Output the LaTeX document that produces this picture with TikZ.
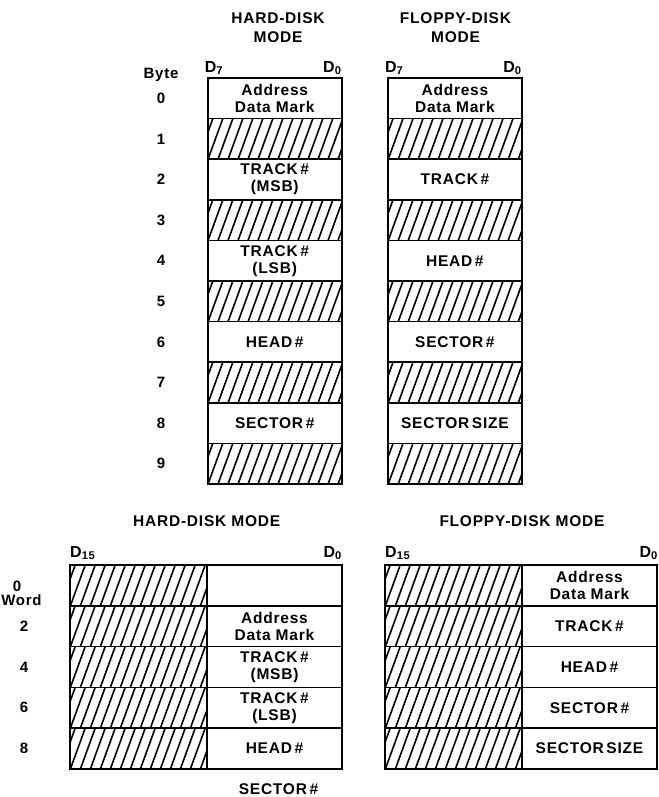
\documentclass[tikz,border=0pt]{standalone}
\usepackage{fontspec}
\setmainfont{Liberation Sans}[LetterSpace=5]
\usetikzlibrary{positioning}
\tikzset{
  cell/.style={draw, line width=1.7pt, minimum width=134pt, minimum height=40.6pt,
               inner sep=0pt, outer sep=0pt, align=center,
               font=\fontsize{15.5}{17}\selectfont\bfseries},
  hatched/.style={cell, path picture={
      \foreach \k in {-4,...,15}
        \draw[line width=1.6pt] ([xshift=\k*10pt, yshift=-1pt]path picture bounding box.south west) -- ++(16pt,44pt);}},
  wcell/.style={cell, minimum width=135pt, minimum height=40.8pt},
  whatched/.style={hatched, minimum width=137pt, minimum height=40.8pt},
  title/.style={align=center, inner sep=0pt, font=\fontsize{15.5}{18.5}\selectfont\bfseries},
  bitlbl/.style={inner sep=0pt, font=\fontsize{16}{17}\selectfont\bfseries},
  numlbl/.style={inner sep=0pt, font=\fontsize{15}{17}\selectfont\bfseries}
}

\begin{document}
\begin{tikzpicture}[x=1pt, y=-1pt]
    \useasboundingbox (0,0) rectangle (658,797);

    % byte-wide layout
    \node[title] (hdtop) at (278,27.5) {HARD-DISK\\MODE};
    \node[title] (fdtop) at (455.5,27.5) {FLOPPY-DISK\\MODE};
    \node[numlbl] (byte) at (161,74.5) {Byte};

    \node[cell] (ha0) at (274.7,98.3) {Address\\Data Mark};
    \node[hatched, below=0pt of ha0] (ha1) {};
    \node[cell, below=0pt of ha1] (ha2) {TRACK\,\#\\(MSB)};
    \node[hatched, below=0pt of ha2] (ha3) {};
    \node[cell, below=0pt of ha3] (ha4) {TRACK\,\#\\(LSB)};
    \node[hatched, below=0pt of ha4] (ha5) {};
    \node[cell, below=0pt of ha5] (ha6) {HEAD\,\#};
    \node[hatched, below=0pt of ha6] (ha7) {};
    \node[cell, below=0pt of ha7] (ha8) {SECTOR\,\#};
    \node[hatched, below=0pt of ha8] (ha9) {};

    \node[cell] (fa0) at (454.9,98.3) {Address\\Data Mark};
    \node[hatched, below=0pt of fa0] (fa1) {};
    \node[cell, below=0pt of fa1] (fa2) {TRACK\,\#};
    \node[hatched, below=0pt of fa2] (fa3) {};
    \node[cell, below=0pt of fa3] (fa4) {HEAD\,\#};
    \node[hatched, below=0pt of fa4] (fa5) {};
    \node[cell, below=0pt of fa5] (fa6) {SECTOR\,\#};
    \node[hatched, below=0pt of fa6] (fa7) {};
    \node[cell, below=0pt of fa7] (fa8) {SECTOR\,SIZE};
    \node[hatched, below=0pt of fa8] (fa9) {};

    \node[bitlbl, anchor=south west] (hd7) at ([xshift=-3pt, yshift=3pt]ha0.north west) {D\textsubscript{7}};
    \node[bitlbl, anchor=south east] (hd0) at ([yshift=3pt]ha0.north east) {D\textsubscript{0}};
    \node[bitlbl, anchor=south west] (fd7) at ([xshift=-3pt, yshift=3pt]fa0.north west) {D\textsubscript{7}};
    \node[bitlbl, anchor=south east] (fd0) at ([yshift=3pt]fa0.north east) {D\textsubscript{0}};

    \foreach \r in {0,...,9}
      \node[numlbl] (bn\r) at (byte |- ha\r) {\r};

    % word-wide layout
    \node[title] (hdbot) at (206.7,521) {HARD-DISK MODE};
    \node[title] (fdbot) at (522,521) {FLOPPY-DISK MODE};

    \node[whatched] (hb0) at (138.5,585.4) {};
    \node[wcell, right=0pt of hb0] (hw0) {};
    \node[whatched, below=0pt of hb0] (hb1) {};
    \node[wcell, right=0pt of hb1] (hw1) {Address\\Data Mark};
    \node[whatched, below=0pt of hb1] (hb2) {};
    \node[wcell, right=0pt of hb2] (hw2) {TRACK\,\#\\(MSB)};
    \node[whatched, below=0pt of hb2] (hb3) {};
    \node[wcell, right=0pt of hb3] (hw3) {TRACK\,\#\\(LSB)};
    \node[whatched, below=0pt of hb3] (hb4) {};
    \node[wcell, right=0pt of hb4] (hw4) {HEAD\,\#};
    \node[title, below=14pt of hw4.south, xshift=4pt] (hsec) {SECTOR\,\#};

    \node[whatched] (fb0) at (453.5,585.4) {};
    \node[wcell, right=0pt of fb0] (fw0) {Address\\Data Mark};
    \node[whatched, below=0pt of fb0] (fb1) {};
    \node[wcell, right=0pt of fb1] (fw1) {TRACK\,\#};
    \node[whatched, below=0pt of fb1] (fb2) {};
    \node[wcell, right=0pt of fb2] (fw2) {HEAD\,\#};
    \node[whatched, below=0pt of fb2] (fb3) {};
    \node[wcell, right=0pt of fb3] (fw3) {SECTOR\,\#};
    \node[whatched, below=0pt of fb3] (fb4) {};
    \node[wcell, right=0pt of fb4] (fw4) {SECTOR\,SIZE};

    \node[bitlbl, anchor=south west] (hd15) at ([yshift=5pt]hb0.north west) {D\textsubscript{15}};
    \node[bitlbl, anchor=south east] (hd00) at ([yshift=5pt]hw0.north east) {D\textsubscript{0}};
    \node[bitlbl, anchor=south west] (fd15) at ([yshift=5pt]fb0.north west) {D\textsubscript{15}};
    \node[bitlbl, anchor=south east] (fd00) at ([xshift=1pt, yshift=5pt]fw0.north east) {D\textsubscript{0}};

    \coordinate (wcol) at (24,0);
    \node[numlbl] (wn0) at (17,586) {0};
    \node[numlbl] (word) at (21.5,600) {Word};
    \foreach \r/\w in {1/2,2/4,3/6,4/8}
      \node[numlbl] (wn\w) at (wcol |- hb\r) {\w};
  \end{tikzpicture}
\end{document}
